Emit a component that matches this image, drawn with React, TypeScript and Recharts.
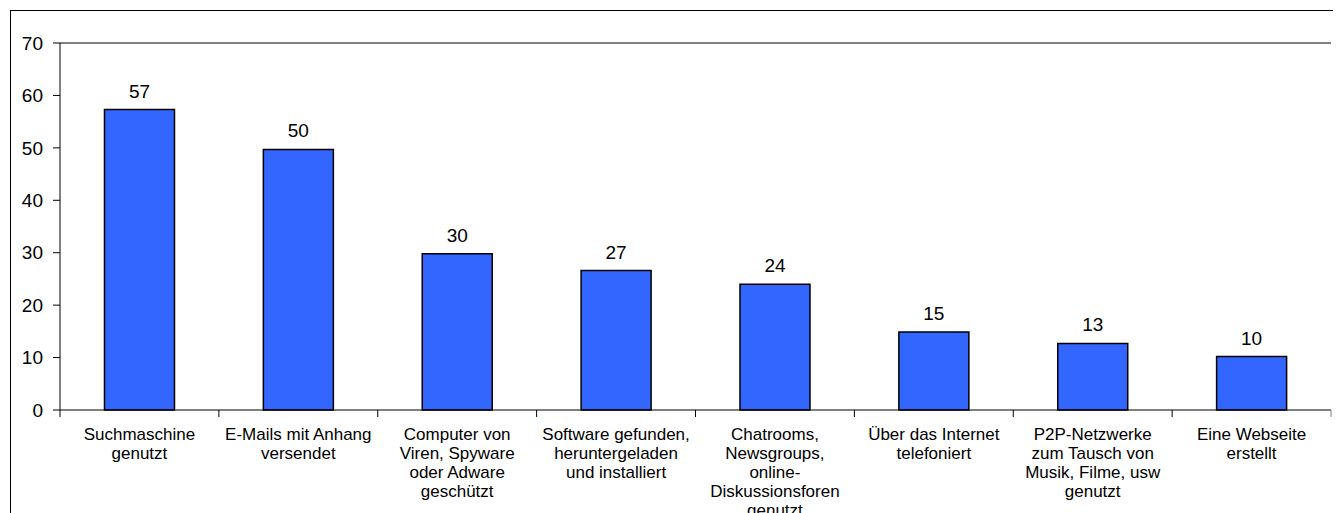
import { Bar, BarChart, LabelList, ReferenceLine, XAxis, YAxis } from "recharts";

const categories = [
  "Suchmaschine\ngenutzt",
  "E-Mails mit Anhang\nversendet",
  "Computer von\nViren, Spyware\noder Adware\ngeschützt",
  "Software gefunden,\nheruntergeladen\nund installiert",
  "Chatrooms,\nNewsgroups,\nonline-\nDiskussionsforen\ngenutzt",
  "Über das Internet\ntelefoniert",
  "P2P-Netzwerke\nzum Tausch von\nMusik, Filme, usw\ngenutzt",
  "Eine Webseite\nerstellt",
];
const values = [57.3, 49.7, 29.8, 26.6, 24.0, 14.9, 12.7, 10.2];
const yTicks = [0, 10, 20, 30, 40, 50, 60, 70];

const FONT = "'Liberation Sans', Arial, sans-serif";

const data = categories.map((name, i) => ({ name, value: values[i] }));

/** Category label split over several lines, with the tick mark drawn
 * at the left edge of the band (and at the right edge for the last one). */
function CategoryTick(props: any) {
  const { x, y, payload, index } = props;
  const half = payload?.offset ?? 79.4;
  const lines = String(payload.value).split("\n");
  return (
    <g>
      <line x1={x - half} x2={x - half} y1={y} y2={y + 7} stroke="#000" />
      {index === categories.length - 1 && (
        <line x1={x + half} x2={x + half} y1={y} y2={y + 7} stroke="#808080" />
      )}
      <text x={x} y={y + 30} textAnchor="middle" fontSize={17} fontFamily={FONT} fill="#000">
        {lines.map((line, i) => (
          <tspan key={i} x={x} dy={i === 0 ? 0 : 19}>
            {line}
          </tspan>
        ))}
      </text>
    </g>
  );
}

export default function App() {
  return (
    <div style={{ position: "relative", width: 1333, height: 505, overflow: "hidden" }}>
      <div
        style={{
          position: "absolute",
          left: 2,
          top: 2,
          width: 1400,
          height: 600,
          border: "1.5px solid #000",
        }}
      />
      <div style={{ position: "absolute", left: 0, top: 0 }}>
        <BarChart
          width={1333}
          height={505}
          data={data}
          margin={{ top: 35, right: 10, left: 0, bottom: 3 }}
          barCategoryGap="28%"
        >
          <XAxis
            dataKey="name"
            interval={0}
            height={100}
            tickSize={0}
            tickMargin={0}
            tickLine={false}
            axisLine={{ stroke: "#000" }}
            tick={<CategoryTick />}
          />
          <YAxis
            domain={[0, 70]}
            ticks={yTicks}
            width={52}
            tickSize={7}
            tickMargin={10}
            axisLine={{ stroke: "#000" }}
            tickLine={{ stroke: "#000" }}
            tick={{ fontSize: 19, fontFamily: FONT, fill: "#000" }}
          />
          <YAxis
            yAxisId="frame"
            orientation="right"
            width={0}
            tick={false}
            tickLine={false}
            axisLine={{ stroke: "#808080", strokeWidth: 2 }}
          />
          <ReferenceLine y={70} stroke="#808080" strokeWidth={2} />
          <Bar dataKey="value" fill="#3366FF" stroke="#000" strokeWidth={1.5} isAnimationActive={false}>
            <LabelList
              dataKey="value"
              position="top"
              offset={12}
              formatter={(v: any) => Math.round(Number(v))}
              style={{ fontSize: 19, fontFamily: FONT, fill: "#000" }}
            />
          </Bar>
        </BarChart>
      </div>
    </div>
  );
}
